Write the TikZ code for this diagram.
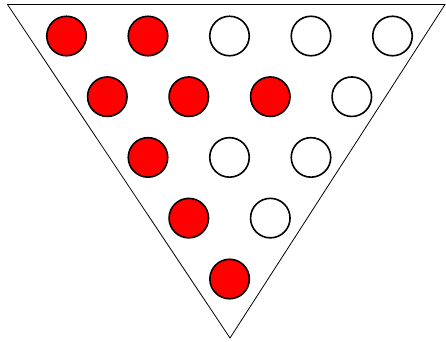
\documentclass[tikz,border=0pt]{standalone}
\begin{document}
\begin{tikzpicture}[x=1pt,y=-1pt,
  peg/.style={circle,draw=black,line width=1.6pt,minimum size=39.5pt,inner sep=0pt},
  redpeg/.style={peg,fill=red},
  whitepeg/.style={peg,fill=white}]
\useasboundingbox (0,0) rectangle (446,341);
\coordinate (tl) at (7.5,4.5);
\coordinate (tr) at (445,4.5);
\coordinate (bt) at (230,338);
\draw[line width=0.8pt] (tl) -- (tr) -- (bt) -- cycle;
% row 1
\node[redpeg] (a1) at (66.5,36) {};
\node[redpeg] (a2) at (148,36) {};
\node[whitepeg] (a3) at (229.5,36) {};
\node[whitepeg] (a4) at (311,36) {};
\node[whitepeg] (a5) at (392.5,36) {};
% row 2
\node[redpeg] (b1) at (107.3,96.7) {};
\node[redpeg] (b2) at (188.8,96.7) {};
\node[redpeg] (b3) at (270.3,96.7) {};
\node[whitepeg] (b4) at (351.8,96.7) {};
% row 3
\node[redpeg] (c1) at (148,157.4) {};
\node[whitepeg] (c2) at (229.5,157.4) {};
\node[whitepeg] (c3) at (311,157.4) {};
% row 4
\node[redpeg] (d1) at (188.8,218.1) {};
\node[whitepeg] (d2) at (270.3,218.1) {};
% row 5
\node[redpeg] (e1) at (229.6,279) {};
\end{tikzpicture}
\end{document}
